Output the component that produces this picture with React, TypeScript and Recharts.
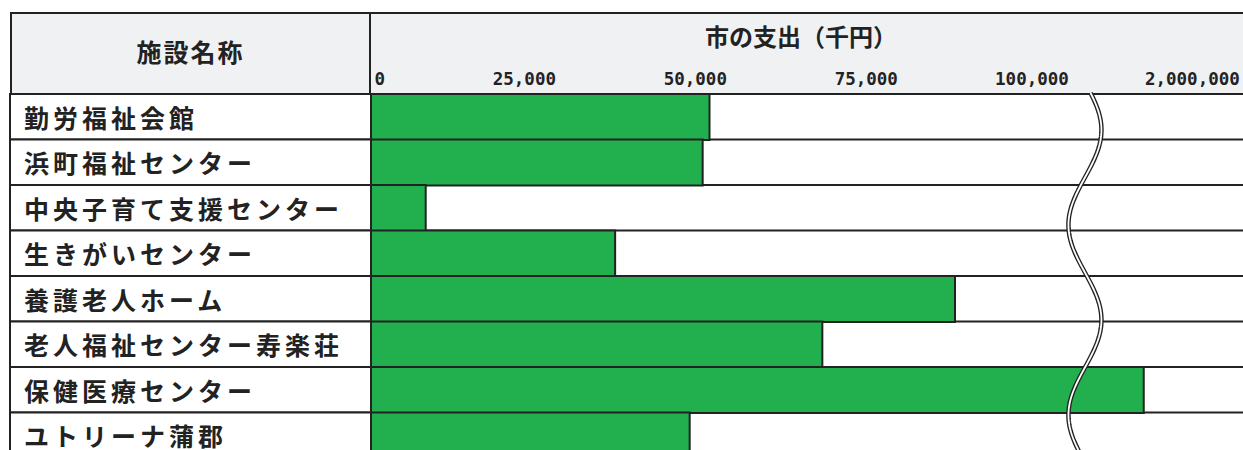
import { BarChart, Bar, XAxis, YAxis } from 'recharts';

const FACILITIES = [
  '勤労福祉会館',
  '浜町福祉センター',
  '中央子育て支援センター',
  '生きがいセンター',
  '養護老人ホーム',
  '老人福祉センター寿楽荘',
  '保健医療センター',
  'ユトリーナ蒲郡',
];
// 市の支出（千円）
const CITY_SPENDING = [49500, 48500, 8000, 35700, 85400, 66000, 1988000, 46600];
const AXIS_TICKS = [0, 25000, 50000, 75000, 100000, 2000000];

const NAME_HEADER = '施設名称';
const VALUE_HEADER = '市の支出（千円）';

// Broken axis: anything from 1,000,000 up is shifted so 2,000,000 lands where 125,000 would be
const BREAK_FROM = 1000000;
const BREAK_SHIFT = 1875000;
const BREAK_AT = 104400; // where the wavy break mark crosses the axis
const DOMAIN_MAX = 130000;

const toAxis = (v: number) => (v >= BREAK_FROM ? v - BREAK_SHIFT : v);
const fromAxis = (d: number) => (d > BREAK_AT ? d + BREAK_SHIFT : d);

const CHART_W = 1260;
const CHART_H = 460;
const MARGIN = { top: 64, right: 0, bottom: 2, left: 10 };
const NAME_COL_W = 361;
const AXIS_H = 30;
const PLOT_LEFT = MARGIN.left + NAME_COL_W;
const PLOT_TOP = MARGIN.top + AXIS_H;
const PLOT_W = CHART_W - PLOT_LEFT - MARGIN.right;
const ROW_H = (CHART_H - PLOT_TOP - MARGIN.bottom) / FACILITIES.length;

const LINE = '#222';
const GREEN = '#22b04f';
const JP_FONT = '"Noto Sans CJK JP", "Noto Sans", sans-serif';

const rows = FACILITIES.map((name, i) => ({
  name,
  value: CITY_SPENDING[i],
  plot: toAxis(CITY_SPENDING[i]),
}));

// facility name cell, drawn as a table cell on the left
const NameTick = ({ y, payload }: any) => (
  <g>
    <rect
      x={MARGIN.left}
      y={y - ROW_H / 2}
      width={NAME_COL_W}
      height={ROW_H}
      fill="#fff"
      stroke={LINE}
      strokeWidth={2}
    />
    <text
      x={24}
      y={y}
      dominantBaseline="central"
      fill={LINE}
      style={{ fontFamily: JP_FONT, fontWeight: 700, fontSize: 25, letterSpacing: 4 }}
    >
      {payload.value}
    </text>
  </g>
);

// tick labels sit right-aligned just past their tick
const ValueTick = ({ x, payload }: any) => (
  <text
    x={x + 14}
    y={PLOT_TOP - 9}
    textAnchor="end"
    fill={LINE}
    style={{ fontFamily: '"DejaVu Sans Mono", monospace', fontWeight: 700, fontSize: 17.5 }}
  >
    {fromAxis(payload.value).toLocaleString('en-US')}
  </text>
);

function breakPath() {
  const cx = PLOT_LEFT + (PLOT_W * BREAK_AT) / DOMAIN_MAX;
  const pts: string[] = [];
  for (let y = PLOT_TOP - 1; y <= 470; y += 2) {
    const x = cx + 16.5 * Math.sin((2 * Math.PI * (y - 130)) / 190 + Math.PI / 2);
    pts.push(`${pts.length ? 'L' : 'M'}${x.toFixed(2)},${y}`);
  }
  return pts.join(' ');
}

export default function App() {
  const wave = breakPath();
  return (
    <div
      style={{
        position: 'absolute',
        left: 0,
        top: 0,
        width: 1243,
        height: 450,
        overflow: 'hidden',
        background: '#fff',
      }}
    >
      {/* header band */}
      <div
        style={{
          position: 'absolute',
          left: MARGIN.left,
          top: 12,
          width: 1260,
          height: PLOT_TOP - 12,
          boxSizing: 'border-box',
          background: '#f0f1f3',
          borderTop: `2px solid ${LINE}`,
          borderLeft: `2px solid ${LINE}`,
        }}
      />
      <div
        style={{
          position: 'absolute',
          left: PLOT_LEFT - 2,
          top: 12,
          width: 2,
          height: PLOT_TOP - 12,
          background: LINE,
        }}
      />
      <div
        style={{
          position: 'absolute',
          left: MARGIN.left,
          top: 37,
          width: NAME_COL_W,
          lineHeight: '28px',
          textAlign: 'center',
          fontFamily: JP_FONT,
          fontWeight: 700,
          fontSize: 25,
          letterSpacing: 2,
          color: LINE,
        }}
      >
        {NAME_HEADER}
      </div>
      <div
        style={{
          position: 'absolute',
          left: 600,
          top: 22,
          width: 402,
          lineHeight: '28px',
          textAlign: 'center',
          fontFamily: JP_FONT,
          fontWeight: 700,
          fontSize: 24,
          color: LINE,
        }}
      >
        {VALUE_HEADER}
      </div>

      <div style={{ position: 'absolute', left: 0, top: 0 }}>
        <BarChart
          width={CHART_W}
          height={CHART_H}
          data={rows}
          layout="vertical"
          margin={MARGIN}
          barCategoryGap={0}
          barGap={0}
        >
          <XAxis
            type="number"
            orientation="top"
            domain={[0, DOMAIN_MAX]}
            ticks={AXIS_TICKS.map(toAxis)}
            interval={0}
            height={AXIS_H}
            axisLine={false}
            tickLine={false}
            tick={ValueTick}
          />
          <YAxis
            type="category"
            dataKey="name"
            width={NAME_COL_W}
            interval={0}
            axisLine={false}
            tickLine={false}
            tick={NameTick}
          />
          <Bar
            dataKey="plot"
            fill={GREEN}
            stroke={LINE}
            strokeWidth={2}
            background={{ fill: '#fff', stroke: LINE, strokeWidth: 2 }}
            isAnimationActive={false}
          />
        </BarChart>
      </div>

      {/* wavy axis-break mark */}
      <svg
        width={1243}
        height={450}
        style={{ position: 'absolute', left: 0, top: 0, pointerEvents: 'none' }}
      >
        <path d={wave} fill="none" stroke={LINE} strokeWidth={4.5} />
        <path d={wave} fill="none" stroke="#fff" strokeWidth={1.8} />
      </svg>
    </div>
  );
}
